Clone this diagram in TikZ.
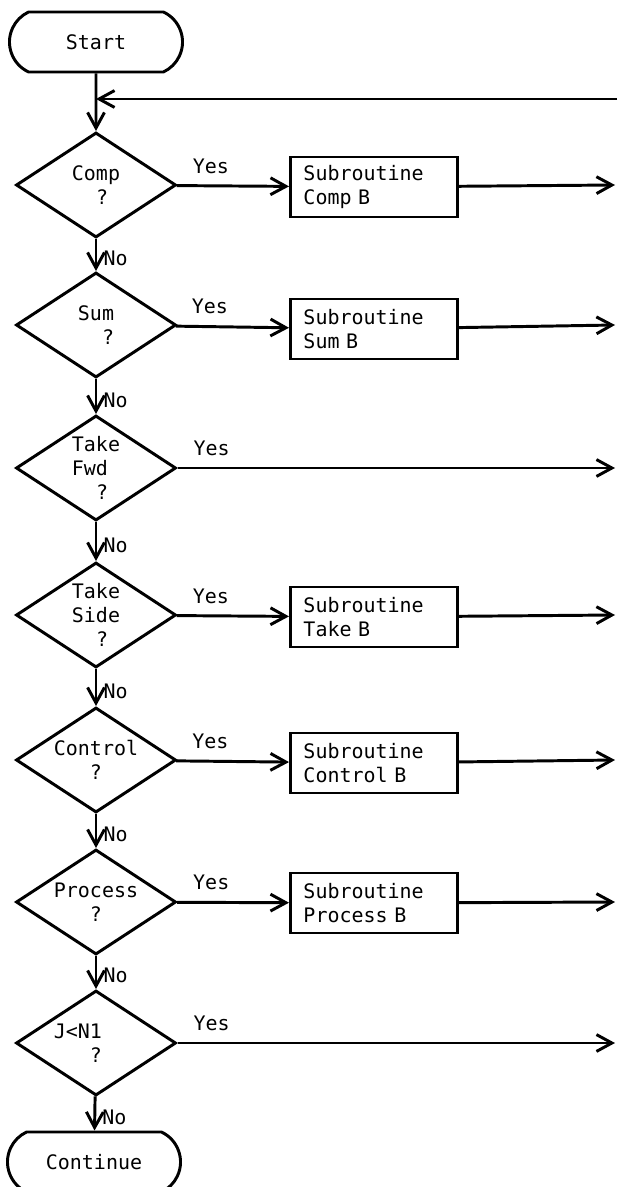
\documentclass[tikz,border=0pt]{standalone}
\usepackage{fontspec}
\setmonofont{DejaVu Sans Mono}
\usetikzlibrary{shapes.geometric, shapes.misc, arrows.meta}

\begin{document}
\begin{tikzpicture}[
    x=0.025cm, y=-0.025cm,
    line width=2.1pt,
    font=\ttfamily\fontsize{14.2}{17.1}\selectfont,
    >={Straight Barb[length=11pt, width=12pt]},
    terminal/.style={draw, rounded rectangle, rounded rectangle arc length=130,
        minimum width=4.325cm, minimum height=1.5cm, inner sep=0pt},
    decision/.style={draw, diamond, aspect=1.5, minimum width=4cm,
        minimum height=2.625cm, inner sep=0pt, align=left},
    subr/.style={draw, rectangle, minimum width=4.175cm, minimum height=1.5cm,
        inner xsep=0.325cm, text width=3.525cm, align=left},
    yes/.style={pos=0, anchor=south west, xshift=0.25cm, yshift=0.15cm},
    no/.style={pos=0.6, anchor=west, xshift=1pt},
]
    \useasboundingbox (0,0) rectangle (617,1187);

    \node[terminal]  (start)   at (96,42)    {Start};
    \node[decision]  (comp)    at (96,185)   {Comp\\\phantom{Co}?};
    \node[decision]  (sum)     at (96,325)   {Sum\\\phantom{Su}?};
    \node[decision]  (fwd)     at (96,468)   {Take\\Fwd\\\phantom{Ta}?};
    \node[decision]  (side)    at (96,615)   {Take\\Side\\\phantom{Ta}?};
    \node[decision]  (control) at (96,760)   {Control\\\phantom{Con}?};
    \node[decision]  (process) at (96,902)   {Process\\\phantom{Pro}?};
    \node[decision]  (jn)      at (96,1043)  {J<N1\\\phantom{J<N}?\phantom{J<N}};
    \node[terminal]  (cont)    at (94,1162)  {Continue};

    \node[subr]      (compB)   at (374,187)  {Subroutine\\Comp B};
    \node[subr]      (sumB)    at (374,329)  {Subroutine\\Sum B};
    \node[subr]      (takeB)   at (374,617)  {Subroutine\\Take B};
    \node[subr]      (controlB) at (374,763) {Subroutine\\Control B};
    \node[subr]      (processB) at (374,903) {Subroutine\\Process B};

    % loose ends on the right edge
    \coordinate (back)     at (617,99);
    \coordinate (compE)    at (615,185);
    \coordinate (sumE)     at (615,325);
    \coordinate (fwdE)     at (615,468);
    \coordinate (takeE)    at (615,615);
    \coordinate (controlE) at (615,760);
    \coordinate (processE) at (615,902);
    \coordinate (jnE)      at (615,1043);

    \path[->]
        (start) edge (comp)
        (back)  edge (start |- back)
        (comp)
            edge node[yes] {Yes} (compB)
            edge node[no] {No} (sum)
        (sum)
            edge node[yes] {Yes} (sumB)
            edge node[no] {No} (fwd)
        (fwd)
            edge node[yes] {Yes} (fwdE)
            edge node[no] {No} (side)
        (side)
            edge node[yes] {Yes} (takeB)
            edge node[no] {No} (control)
        (control)
            edge node[yes] {Yes} (controlB)
            edge node[no] {No} (process)
        (process)
            edge node[yes] {Yes} (processB)
            edge node[no] {No} (jn)
        (jn)
            edge node[yes] {Yes} (jnE)
            edge node[no] {No} (cont)
        (compB)    edge (compE)
        (sumB)     edge (sumE)
        (takeB)    edge (takeE)
        (controlB) edge (controlE)
        (processB) edge (processE)
        ;
\end{tikzpicture}
\end{document}
